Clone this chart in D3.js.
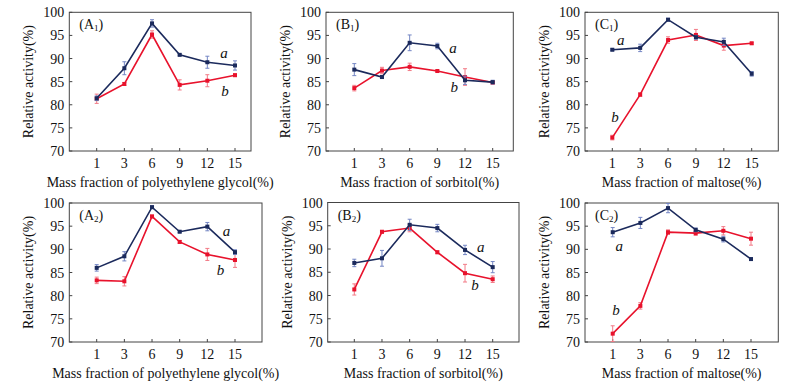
<!DOCTYPE html>
<html>
<head>
<meta charset="utf-8">
<script src="https://cdn.jsdelivr.net/npm/d3@7"></script>
<style>
  html, body { margin: 0; padding: 0; background: #fff; }
  svg { display: block; font-family: "Liberation Serif", "DejaVu Serif", serif; }
  .tick-label { font-size: 14px; fill: #111; }
  .axis-title { font-size: 14px; fill: #111; }
  .curve-label { font-size: 15px; font-style: italic; fill: #111; }
  .panel-label { font-size: 14px; fill: #111; }
</style>
</head>
<body>
<svg id="chart" width="800" height="388"></svg>
<script>
// -----------------------------------------------------------------------------
// DATA
// -----------------------------------------------------------------------------

const X_CATS = [1, 3, 6, 9, 12, 15];
const Y_TICKS = [70, 75, 80, 85, 90, 95, 100];

// series a (navy) / series b (red), with error half-widths
const A1_a = [81.4, 87.9, 97.6, 90.8, 89.2, 88.5];
const A1_b = [81.3, 84.5, 95.2, 84.3, 85.2, 86.4];
const A1_aErr = [0.5, 1.4, 0.8, 0.2, 1.3, 1.0];
const A1_bErr = [1.0, 0.3, 0.8, 1.1, 1.3, 0.3];

const B1_a = [87.6, 86.0, 93.4, 92.7, 85.3, 84.9];
const B1_b = [83.6, 87.4, 88.2, 87.3, 86.0, 84.8];
const B1_aErr = [1.3, 0.3, 1.7, 0.6, 0.9, 0.4];
const B1_bErr = [0.6, 0.7, 0.8, 0.2, 1.8, 0.3];

const C1_a = [91.9, 92.3, 98.4, 94.6, 93.6, 86.7];
const C1_b = [72.9, 82.2, 94.0, 95.1, 92.8, 93.3];
const C1_aErr = [0.2, 0.8, 0.3, 0.4, 0.8, 0.5];
const C1_bErr = [0.5, 0.4, 0.7, 1.2, 1.0, 0.2];

const A2_a = [86.0, 88.5, 99.1, 93.8, 94.9, 89.4];
const A2_b = [83.3, 83.1, 97.1, 91.6, 88.9, 87.7];
const A2_aErr = [0.7, 1.0, 0.3, 0.2, 0.9, 0.5];
const A2_bErr = [0.7, 1.0, 0.3, 0.3, 1.3, 1.6];

const B2_a = [87.0, 88.0, 95.2, 94.5, 89.8, 86.1];
const B2_b = [81.3, 93.7, 94.5, 89.3, 84.8, 83.5];
const B2_aErr = [0.8, 1.7, 1.2, 0.8, 1.0, 1.2];
const B2_bErr = [1.2, 0.3, 0.8, 0.3, 1.9, 0.7];

const C2_a = [93.7, 95.7, 98.9, 94.2, 92.2, 87.9];
const C2_b = [71.8, 77.8, 93.7, 93.5, 94.0, 92.3];
const C2_aErr = [1.0, 1.2, 1.0, 0.4, 0.6, 0.2];
const C2_bErr = [1.7, 0.7, 0.5, 0.5, 0.9, 1.4];

const X_TITLES = {
  A: 'Mass fraction of polyethylene glycol(%)',
  B: 'Mass fraction of sorbitol(%)',
  C: 'Mass fraction of maltose(%)'
};

// -----------------------------------------------------------------------------
// LAYOUT
// -----------------------------------------------------------------------------

const COLORS = { a: '#1b2a5c', b: '#e8122c', aErr: '#7486c4', bErr: '#f27a86', frame: '#444' };

// curve label positions are in (category index, value) units
const PANELS = [
  { key: 'A', sub: '1', a: A1_a, b: A1_b, aErr: A1_aErr, bErr: A1_bErr,
    box: { left: 69.3, right: 251, top: 12.3, bottom: 151, x0: 96.7, x5: 235 },
    labA: [4.6, 91.2], labB: [4.64, 83.0] },
  { key: 'B', sub: '1', a: B1_a, b: B1_b, aErr: B1_aErr, bErr: B1_bErr,
    box: { left: 326, right: 513.3, top: 12.3, bottom: 151, x0: 354.3, x5: 492.7 },
    labA: [3.57, 92.2], labB: [3.61, 83.8] },
  { key: 'C', sub: '1', a: C1_a, b: C1_b, aErr: C1_aErr, bErr: C1_bErr,
    box: { left: 585, right: 778.3, top: 12.3, bottom: 151, x0: 612.3, x5: 751.7 },
    labA: [0.3, 94.0], labB: [0.1, 77.3] },
  { key: 'A', sub: '2', a: A2_a, b: A2_b, aErr: A2_aErr, bErr: A2_bErr,
    box: { left: 69.3, right: 262, top: 203, bottom: 342, x0: 96.7, x5: 235 },
    labA: [4.69, 94.0], labB: [4.48, 85.6] },
  { key: 'B', sub: '2', a: B2_a, b: B2_b, aErr: B2_aErr, bErr: B2_bErr,
    box: { left: 327.7, right: 519, top: 202.5, bottom: 342, x0: 354.3, x5: 492.7 },
    labA: [4.57, 90.4], labB: [4.36, 82.2] },
  { key: 'C', sub: '2', a: C2_a, b: C2_b, aErr: C2_aErr, bErr: C2_bErr,
    box: { left: 585, right: 778.3, top: 203, bottom: 342, x0: 612.7, x5: 751 },
    labA: [0.24, 90.7], labB: [0.12, 77.0] }
];

// -----------------------------------------------------------------------------
// DRAW
// -----------------------------------------------------------------------------

const svg = d3.select('#chart');

function drawPanel(p) {
  const bx = p.box;
  const x = d3.scaleLinear().domain([0, X_CATS.length - 1]).range([bx.x0, bx.x5]);
  const y = d3.scaleLinear().domain([70, 100]).range([bx.bottom, bx.top]);
  const g = svg.append('g');

  // frame
  g.append('rect')
    .attr('x', bx.left).attr('y', bx.top)
    .attr('width', bx.right - bx.left).attr('height', bx.bottom - bx.top)
    .attr('fill', 'none').attr('stroke', COLORS.frame).attr('stroke-width', 1);

  // y ticks (inside) + labels
  Y_TICKS.forEach(t => {
    g.append('line')
      .attr('x1', bx.left).attr('x2', bx.left + 3)
      .attr('y1', y(t)).attr('y2', y(t))
      .attr('stroke', COLORS.frame);
    g.append('text').attr('class', 'tick-label')
      .attr('x', bx.left - 5).attr('y', y(t) + 5)
      .attr('text-anchor', 'end').text(t);
  });

  // x ticks (inside) + labels
  X_CATS.forEach((c, i) => {
    g.append('line')
      .attr('x1', x(i)).attr('x2', x(i))
      .attr('y1', bx.bottom).attr('y2', bx.bottom - 3)
      .attr('stroke', COLORS.frame);
    g.append('text').attr('class', 'tick-label')
      .attr('x', x(i)).attr('y', bx.bottom + 17)
      .attr('text-anchor', 'middle').text(c);
  });

  // axis titles
  g.append('text').attr('class', 'axis-title')
    .attr('x', (bx.left + bx.right) / 2)
    .attr('y', bx.bottom + 36)
    .attr('text-anchor', 'middle').text(X_TITLES[p.key]);
  g.append('text').attr('class', 'axis-title')
    .attr('transform', `translate(${bx.left - 36},${(bx.top + bx.bottom) / 2}) rotate(-90)`)
    .attr('text-anchor', 'middle').text('Relative activity(%)');

  // panel label
  const pl = g.append('text').attr('class', 'panel-label')
    .attr('x', bx.left + 10).attr('y', bx.top + 17);
  pl.append('tspan').text('(' + p.key);
  pl.append('tspan').attr('font-size', 9).attr('dy', 2).text(p.sub);
  pl.append('tspan').attr('dy', -2).text(')');

  // series
  [['b', p.b, p.bErr], ['a', p.a, p.aErr]].forEach(([s, vals, errs]) => {
    const pts = vals.map((v, i) => ({ i, v, e: errs[i] }));

    const eg = g.append('g').attr('stroke', COLORS[s + 'Err']).attr('stroke-width', 1);
    pts.forEach(d => {
      eg.append('line').attr('x1', x(d.i)).attr('x2', x(d.i))
        .attr('y1', y(d.v - d.e)).attr('y2', y(d.v + d.e));
      [d.v - d.e, d.v + d.e].forEach(ev => {
        eg.append('line').attr('x1', x(d.i) - 2).attr('x2', x(d.i) + 2)
          .attr('y1', y(ev)).attr('y2', y(ev));
      });
    });

    g.append('path').datum(pts)
      .attr('fill', 'none').attr('stroke', COLORS[s]).attr('stroke-width', 1.6)
      .attr('d', d3.line().x(d => x(d.i)).y(d => y(d.v)));

    g.selectAll(null).data(pts).enter().append('rect')
      .attr('x', d => x(d.i) - 2).attr('y', d => y(d.v) - 2)
      .attr('width', 4).attr('height', 4)
      .attr('fill', COLORS[s]);
  });

  // curve labels
  g.append('text').attr('class', 'curve-label')
    .attr('x', x(p.labA[0])).attr('y', y(p.labA[1]) + 5)
    .attr('text-anchor', 'middle').text('a');
  g.append('text').attr('class', 'curve-label')
    .attr('x', x(p.labB[0])).attr('y', y(p.labB[1]) + 5)
    .attr('text-anchor', 'middle').text('b');
}

PANELS.forEach(drawPanel);
</script>
</body>
</html>
